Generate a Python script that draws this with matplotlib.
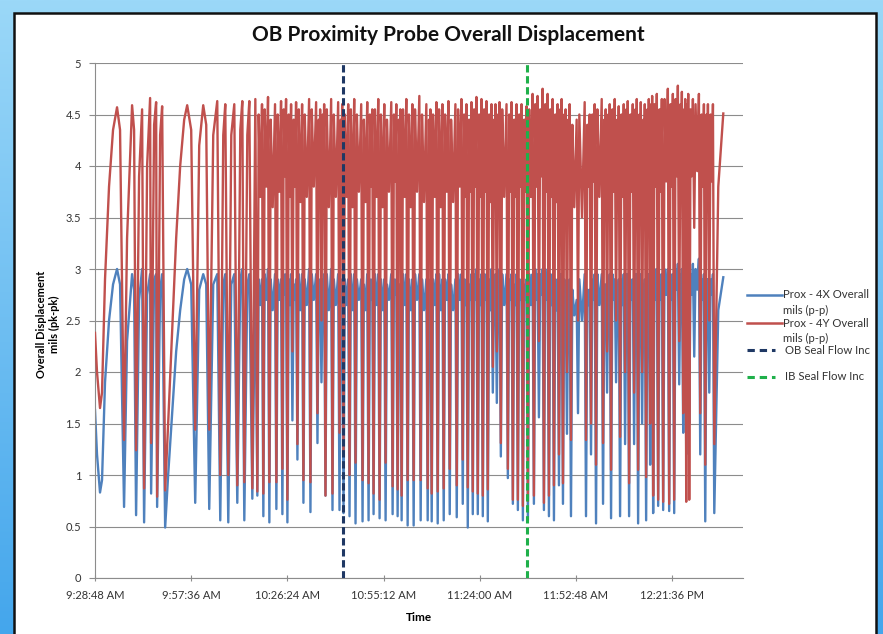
import numpy as np
import matplotlib
matplotlib.use("Agg")
import matplotlib.pyplot as plt
from matplotlib.colors import LinearSegmentedColormap
from matplotlib.patches import Rectangle
from matplotlib.lines import Line2D

plt.rcParams['font.family'] = ['Lato', 'DejaVu Sans']

# Datos: minutos desde 9:28:48 AM, desplazamiento (mils pk-pk)
# tramo inicial (arcos anchos)
t_min = [
    0.0, 0.6, 1.5, 2.1, 3.0, 4.2, 5.4, 6.6, 7.5, 8.7, 9.6, 11.1, 11.7, 12.3, 13.2, 14.1,
    14.7, 15.6, 16.5, 16.8, 17.7, 18.3, 18.6, 19.5, 20.1, 21.0, 21.9, 23.1, 24.3, 25.5,
    26.7, 27.6, 28.8, 30.0, 31.2, 32.4, 33.3, 34.2, 35.4, 36.6, 37.5, 38.4, 39.0, 39.9,
    40.8, 41.7, 42.6, 43.5, 44.1, 44.7, 45.6, 46.2, 47.1, 48.0,
    # ciclos: minimo, pico, valle, pico
    48.6, 49.0, 49.5, 50.0,  50.4, 50.8, 51.3, 51.8,  52.2, 52.6, 53.2, 53.9,
    54.3, 54.7, 55.2, 55.7,  56.1, 56.5, 56.85, 57.2,  57.6, 58.0, 58.35, 58.7,
    59.1, 59.5, 59.85, 60.2,  60.6, 61.0, 61.5, 62.0,  62.4, 62.8, 63.4, 64.1,
    64.5, 64.9, 65.5, 66.2,  66.6, 67.0, 67.2, 67.4,  67.8, 68.2, 68.4, 68.6,
    69.0, 69.4, 70.0, 70.7,  71.1, 71.5, 72.1, 72.8,  73.2, 73.6, 73.8, 74.0,
    74.4, 74.8, 75.3, 75.8,  76.2, 76.6, 77.1, 77.6,  78.0, 78.4, 79.0, 79.7,
    80.1, 80.5, 81.0, 81.5,  81.9, 82.3, 82.65, 83.0,  83.4, 83.8, 84.3, 84.8,
    85.2, 85.6, 86.1, 86.6,  87.0, 87.4, 88.0, 88.7,  89.1, 89.5, 89.85, 90.2,
    90.6, 91.0, 91.2, 91.4,  91.8, 92.2, 92.7, 93.2,  93.6, 94.0, 94.5, 95.0,
    95.4, 95.8, 96.4, 97.1,  97.5, 97.9, 98.5, 99.2,  99.6, 100.0, 100.2, 100.4,
    100.8, 101.2, 101.7, 102.2,  102.6, 103.0, 103.5, 104.0,  104.4, 104.8, 105.3, 105.8,
    106.2, 106.6, 107.2, 107.9,  108.3, 108.7, 109.2, 109.7,  110.1, 110.5, 110.85, 111.2,
    111.6, 112.0, 112.35, 112.7,  113.1, 113.5, 113.85, 114.2,  114.6, 115.0, 115.35, 115.7,
    116.1, 116.5, 116.85, 117.2,  117.6, 118.0, 118.35, 118.7,  119.1, 119.5, 119.7, 119.9,
    120.3, 120.7, 120.9, 121.1,  121.5, 121.9, 122.5, 123.2,  123.6, 124.0, 124.35, 124.7,
    125.1, 125.5, 125.85, 126.2,  126.6, 127.0, 127.35, 127.7,  128.1, 128.5, 128.85, 129.2,
    129.6, 130.0, 130.5, 131.0,  131.4, 131.8, 132.15, 132.5,  132.9, 133.3, 133.65, 134.0,
    134.4, 134.8, 135.15, 135.5,  135.9, 136.3, 136.65, 137.0,  137.4, 137.8, 138.15, 138.5,
    138.9, 139.3, 139.5, 139.7,  140.1, 140.5, 140.7, 140.9,  141.3, 141.7, 141.9, 142.1,
    142.5, 142.9, 143.5, 144.2,  144.6, 145.0, 145.8, 146.6,  147.0, 147.4, 147.75, 148.1,
    148.5, 148.9, 149.25, 149.6,  150.0, 150.4, 151.0, 151.7,  152.1, 152.5, 152.7, 152.9,
    153.3, 153.7, 153.9, 154.1,  154.5, 154.9, 155.25, 155.6,  156.0, 156.4, 156.6, 156.8,
    157.2, 157.6, 157.95, 158.3,  158.7, 159.1, 159.3, 159.5,  159.9, 160.3, 160.65, 161.0,
    161.4, 161.8, 162.0, 162.2,  162.6, 163.0, 163.2, 163.4,  163.8, 164.2, 164.4, 164.6,
    165.0, 165.4, 165.6, 165.8,  166.2, 166.5, 166.65, 166.8,  167.1, 167.5, 167.85, 168.2,
    168.6, 169.0, 169.35, 169.7,  170.1, 170.5, 171.0, 171.5,  171.9, 172.3, 172.65, 173.0,
    173.4, 173.8, 174.15, 174.5,  174.9, 175.3, 175.5, 175.7,  176.1, 176.4, 176.55, 176.7,
    177.0, 177.3, 177.45, 177.6,  177.9, 178.3, 178.65, 179.0,  179.4, 179.8, 180.3, 180.8,
    181.2, 181.6, 181.95, 182.3,  182.7, 183.1, 183.3, 183.5,  183.9, 184.3, 184.65, 185.0,
    185.4, 186.6, 188.1,
]
prox_4y = [
    2.38, 2.0, 1.65, 1.8, 2.9, 3.8, 4.35, 4.57, 4.35, 1.34, 3.3, 4.59, 4.35, 1.24, 3.9, 4.55,
    0.87, 4.0, 4.66, 1.31, 4.4, 4.62, 0.79, 4.3, 4.58, 0.85, 1.5, 2.4, 3.3, 4.0,
    4.45, 4.59, 4.35, 1.44, 4.2, 4.59, 4.4, 1.44, 4.3, 4.63, 1.0, 4.3, 4.6, 1.0,
    4.3, 4.6, 0.9, 4.35, 4.63, 0.93, 4.3, 4.63, 0.87, 4.65,
    0.84, 4.5, 3.7, 4.6,  0.82, 4.55, 3.8, 4.67,  0.93, 4.45, 3.6, 4.6,
    0.93, 4.5, 3.75, 4.63,  1.06, 4.55, 3.9, 4.65,  0.76, 4.5, 3.7, 4.6,
    2.2, 4.45, 3.8, 4.62,  1.3, 4.55, 3.65, 4.6,  0.95, 4.5, 3.7, 4.65,
    0.93, 4.55, 3.8, 4.62,  1.6, 4.45, 3.9, 4.55,  2.5, 4.5, 3.85, 4.6,
    0.8, 4.55, 3.6, 4.65,  0.82, 4.5, 3.7, 4.62,  1.41, 4.45, 3.85, 4.6,
    1.22, 4.5, 3.7, 4.6,  1.0, 4.55, 3.6, 4.65,  1.12, 4.5, 3.75, 4.6,
    0.95, 4.45, 3.65, 4.62,  0.92, 4.5, 3.8, 4.55,  0.82, 4.55, 3.7, 4.65,
    0.76, 4.5, 3.6, 4.6,  1.12, 4.45, 3.75, 4.62,  0.89, 4.5, 3.85, 4.6,
    0.86, 4.45, 3.9, 4.55,  0.8, 4.55, 3.7, 4.65,  0.95, 4.5, 3.6, 4.6,
    0.95, 4.55, 3.75, 4.68,  0.95, 4.5, 3.65, 4.6,  0.87, 4.45, 3.9, 4.55,
    0.82, 4.5, 3.7, 4.62,  0.84, 4.55, 3.6, 4.6,  0.87, 4.5, 3.75, 4.63,
    1.06, 4.45, 3.65, 4.6,  0.9, 4.55, 3.8, 4.65,  1.15, 4.5, 3.7, 4.6,
    0.88, 4.45, 3.75, 4.62,  0.84, 4.55, 3.8, 4.67,  0.82, 4.5, 3.7, 4.65,
    0.8, 4.55, 3.75, 4.63,  0.86, 4.5, 3.65, 4.6,  2.05, 4.45, 3.9, 4.6,
    2.2, 4.5, 3.85, 4.62,  1.31, 4.55, 3.7, 4.6,  1.06, 4.5, 3.75, 4.62,
    0.76, 4.45, 3.7, 4.6,  0.76, 4.5, 3.8, 4.6,  0.7, 4.45, 3.75, 4.58,
    0.75, 4.55, 3.7, 4.7,  0.8, 4.6, 3.8, 4.68,  2.3, 4.55, 3.9, 4.75,
    0.73, 4.6, 3.75, 4.7,  0.8, 4.55, 3.7, 4.65,  0.9, 4.5, 3.65, 4.6,
    1.2, 4.55, 3.8, 4.65,  0.92, 4.5, 3.85, 4.55,  2.0, 4.45, 3.9, 4.6,
    1.34, 4.4, 3.6, 4.45,  2.5, 4.5, 3.5, 4.62,  1.34, 4.4, 3.8, 4.5,
    1.5, 4.5, 3.85, 4.6,  1.1, 4.55, 3.7, 4.65,  1.31, 4.45, 3.9, 4.55,
    2.2, 4.5, 3.85, 4.6,  1.05, 4.55, 3.75, 4.65,  2.5, 4.45, 3.9, 4.58,
    1.37, 4.5, 3.7, 4.6,  2.0, 4.55, 3.85, 4.63,  0.92, 4.5, 3.75, 4.6,
    1.8, 4.55, 3.9, 4.65,  1.05, 4.5, 3.8, 4.62,  2.0, 4.45, 3.9, 4.6,
    0.98, 4.55, 3.85, 4.65,  1.5, 4.6, 4.0, 4.68,  0.8, 4.6, 3.8, 4.7,
    0.76, 4.55, 3.75, 4.65,  0.74, 4.65, 3.85, 4.75,  0.72, 4.6, 3.8, 4.7,
    0.76, 4.65, 3.9, 4.78,  2.3, 4.6, 4.0, 4.72,  1.6, 4.55, 4.0, 4.65,
    0.74, 4.6, 4.05, 4.7,  0.76, 4.55, 3.9, 4.65,  3.4, 4.6, 3.95, 4.7,
    1.6, 4.5, 3.8, 4.6,  1.1, 4.5, 3.9, 4.6,  2.5, 4.5, 3.85, 4.6,
    1.3, 3.8, 4.51,
]
prox_4x = [
    1.63, 1.2, 0.83, 0.95, 1.9, 2.5, 2.85, 3.0, 2.85, 0.69, 2.3, 2.95, 2.8, 0.61, 2.7, 3.0,
    0.54, 2.75, 2.95, 0.82, 2.9, 2.95, 0.69, 2.8, 2.95, 0.49, 1.0, 1.6, 2.2, 2.6,
    2.9, 3.0, 2.85, 0.73, 2.8, 2.95, 2.85, 0.67, 2.85, 2.95, 0.56, 2.85, 2.95, 0.54,
    2.85, 2.95, 0.73, 2.9, 3.0, 0.56, 2.85, 2.95, 0.77, 2.95,
    0.8, 2.9, 2.65, 2.9,  0.6, 2.95, 2.7, 3.0,  0.54, 2.9, 2.6, 2.95,
    0.67, 2.9, 2.7, 2.9,  0.62, 2.95, 2.75, 2.95,  0.54, 2.9, 2.65, 2.95,
    1.53, 2.85, 2.7, 2.9,  1.15, 2.95, 2.6, 2.95,  0.73, 2.9, 2.65, 3.0,
    0.64, 2.95, 2.7, 2.95,  1.31, 2.85, 2.75, 2.9,  1.9, 2.9, 2.7, 2.95,
    0.8, 2.95, 2.6, 3.0,  0.66, 2.9, 2.65, 2.95,  0.66, 2.85, 2.7, 2.9,
    0.63, 2.9, 2.65, 2.9,  0.6, 2.95, 2.6, 2.95,  0.53, 2.9, 2.7, 2.9,
    0.55, 2.85, 2.6, 2.95,  0.56, 2.9, 2.7, 2.9,  0.62, 2.95, 2.65, 2.95,
    0.58, 2.9, 2.6, 2.9,  0.56, 2.85, 2.7, 2.95,  0.62, 2.9, 2.75, 2.9,
    0.6, 2.85, 2.75, 2.85,  0.56, 2.95, 2.65, 2.95,  0.51, 2.9, 2.6, 2.9,
    0.51, 2.95, 2.7, 2.95,  0.56, 2.9, 2.6, 2.9,  0.56, 2.85, 2.75, 2.9,
    0.55, 2.9, 2.65, 2.95,  0.53, 2.95, 2.6, 2.9,  0.56, 2.9, 2.7, 2.95,
    0.62, 2.85, 2.6, 2.9,  0.59, 2.95, 2.7, 2.95,  0.72, 2.9, 2.65, 2.9,
    0.49, 2.85, 2.7, 2.95,  0.62, 2.95, 2.7, 3.0,  0.62, 2.9, 2.65, 2.95,
    0.6, 2.95, 2.7, 2.95,  0.55, 2.9, 2.6, 3.0,  1.8, 2.85, 2.75, 2.95,
    1.7, 2.9, 2.75, 3.0,  1.18, 2.95, 2.65, 2.95,  0.97, 2.9, 2.7, 2.95,
    0.72, 2.85, 2.65, 2.95,  0.66, 2.9, 2.7, 2.9,  0.56, 2.85, 2.7, 2.9,
    0.56, 2.95, 2.65, 2.95,  0.72, 3.0, 2.7, 2.95,  1.56, 2.95, 2.75, 3.0,
    0.66, 3.0, 2.7, 2.95,  0.6, 2.95, 2.65, 2.95,  0.56, 2.9, 2.6, 2.9,
    0.9, 2.95, 2.7, 2.95,  0.72, 2.9, 2.75, 2.85,  1.4, 2.85, 2.75, 2.9,
    0.6, 2.8, 2.55, 2.7,  1.6, 2.9, 2.5, 2.95,  0.6, 2.8, 2.65, 2.8,
    1.2, 2.9, 2.7, 2.95,  0.53, 2.95, 2.65, 2.95,  0.72, 2.85, 2.75, 2.85,
    1.8, 2.9, 2.75, 2.95,  0.58, 2.95, 2.7, 2.9,  1.9, 2.85, 2.75, 2.9,
    0.6, 2.9, 2.65, 2.95,  1.3, 2.95, 2.75, 2.95,  0.6, 2.9, 2.7, 2.9,
    1.3, 2.95, 2.75, 2.95,  0.53, 2.9, 2.7, 2.95,  1.5, 2.85, 2.75, 2.9,
    0.56, 2.95, 2.75, 2.95,  1.1, 2.95, 2.8, 2.95,  0.63, 3.0, 2.7, 3.0,
    0.7, 2.95, 2.7, 2.95,  0.66, 3.0, 2.75, 3.0,  0.65, 2.95, 2.7, 2.95,
    0.63, 3.0, 2.8, 3.05,  1.88, 2.95, 2.8, 3.0,  1.41, 2.9, 2.8, 2.95,
    1.2, 2.95, 2.8, 2.95,  1.5, 2.95, 2.75, 3.05,  2.15, 3.0, 2.8, 3.1,
    1.2, 2.9, 2.7, 2.95,  0.55, 2.9, 2.75, 2.9,  1.8, 2.9, 2.75, 2.95,
    0.63, 2.6, 2.92,
]

ob_seal_min = 74.25
ib_seal_min = 129.3

tick_min = [0.0, 28.8, 57.6, 86.4, 115.2, 144.0, 172.8]
tick_labels = ["9:28:48 AM", "9:57:36 AM", "10:26:24 AM", "10:55:12 AM",
               "11:24:00 AM", "11:52:48 AM", "12:21:36 PM"]

W, H = 883, 634
fig = plt.figure(figsize=(W / 100, H / 100), dpi=100)

# fondo azul con panel blanco
bg = fig.add_axes([0, 0, 1, 1])
bg.set_zorder(-1)
grad = np.linspace(0, 1, 256).reshape(-1, 1)
cmap = LinearSegmentedColormap.from_list('bg', ['#9BD8F8', '#44A6EC'])
bg.imshow(grad, aspect='auto', cmap=cmap, extent=[0, W, H, 0])
bg.add_patch(Rectangle((14, 13), 862, 630, facecolor='white', edgecolor='#111111', lw=1.8))
bg.set_xlim(0, W)
bg.set_ylim(H, 0)
bg.axis('off')

ax = fig.add_axes([95 / W, 1 - 578 / H, (743 - 95) / W, (578 - 63) / H])
ax.plot(t_min, prox_4x, color='#4F81BD', lw=1.7, zorder=2)
ax.plot(t_min, prox_4y, color='#C0504D', lw=1.7, zorder=3)
ax.axvline(ob_seal_min, color='#1F3864', lw=2.2, dashes=(2.4, 1.2), zorder=4)
ax.axvline(ib_seal_min, color='#1FB04A', lw=2.2, dashes=(2.4, 1.2), zorder=4)

ax.set_xlim(0, 194.0)
ax.set_ylim(0, 5)
ax.set_yticks(np.arange(0, 5.01, 0.5))
ax.set_yticklabels([f"{v:g}" for v in np.arange(0, 5.01, 0.5)])
ax.set_xticks(tick_min)
ax.set_xticklabels(tick_labels)
ax.grid(axis='y', color='#8C8C8C', lw=0.8)
ax.set_axisbelow(True)
for s in ['top', 'right']:
    ax.spines[s].set_visible(False)
for s in ['left', 'bottom']:
    ax.spines[s].set_color('#8C8C8C')
    ax.spines[s].set_linewidth(0.8)
ax.tick_params(axis='x', direction='inout', length=5, color='#8C8C8C', labelsize=8,
               labelcolor='#333333', pad=6)
ax.tick_params(axis='y', direction='out', length=4, color='#8C8C8C', labelsize=8,
               labelcolor='#333333', pad=6)
ax.set_xlabel('Time', fontsize=8.5, fontweight='bold', labelpad=8)

fig.text(448 / W, 1 - 35 / H, 'OB Proximity Probe Overall Displacement',
         ha='center', va='center', fontsize=15, fontweight='bold', color='#111111')
fig.text(48 / W, 1 - 324 / H, 'Overall Displacement\nmils (pk-pk)', rotation=90,
         ha='center', va='center', fontsize=8, fontweight='bold', linespacing=1.3)

# leyenda
def fx(x):
    return x / W

def fy(y):
    return 1 - y / H

legend_items = [
    ('Prox - 4X Overall', 'mils (p-p)', '#4F81BD', '-', 295),
    ('Prox - 4Y Overall', 'mils (p-p)', '#C0504D', '-', 323),
    ('OB Seal Flow Inc', None, '#1F3864', '--', 350),
    ('IB Seal Flow Inc', None, '#1FB04A', '--', 377),
]
for l1, l2, c, ls, yy in legend_items:
    if ls == '-':
        fig.add_artist(Line2D([fx(747), fx(782)], [fy(yy), fy(yy)], color=c, lw=1.8))
        tx = 783
    else:
        fig.add_artist(Line2D([fx(747), fx(775)], [fy(yy), fy(yy)], color=c, lw=2.2,
                              dashes=(2.4, 1.6)))
        tx = 785
    fig.text(fx(tx), fy(yy), l1, ha='left', va='center', fontsize=8.2, color='#333333')
    if l2:
        fig.text(fx(tx), fy(yy + 15), l2, ha='left', va='center', fontsize=8.2,
                 color='#333333')

fig.savefig('out.png', dpi=100)
